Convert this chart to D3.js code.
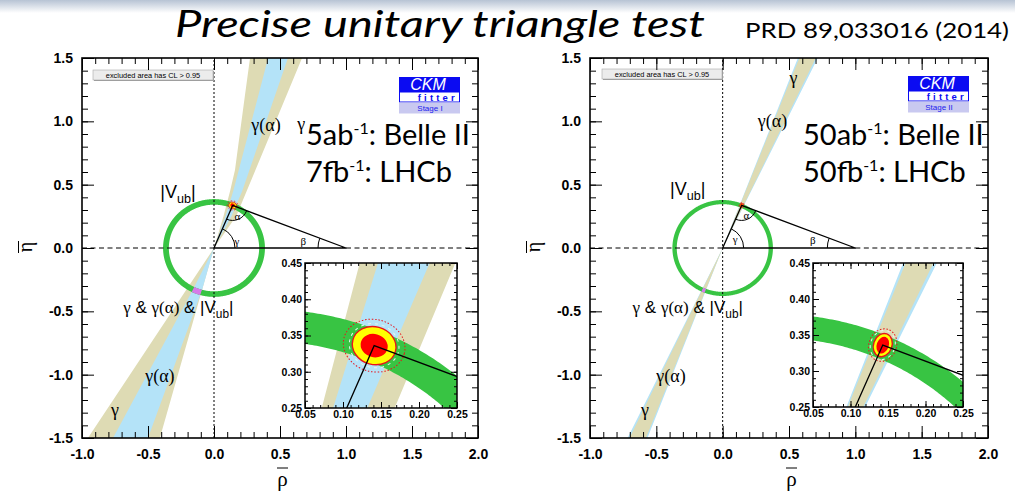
<!DOCTYPE html>
<html>
<head>
<meta charset="utf-8">
<script src="https://cdn.jsdelivr.net/npm/d3@7"></script>
<style>
  html, body { margin: 0; padding: 0; background: #fff; }
  svg { display: block; }
</style>
</head>
<body>
<svg id="chart" width="1015" height="492"></svg>
<script>
// ---------------------------------------------------------------
// Unitarity-triangle fits, two luminosity scenarios (Stage I / II)
// ---------------------------------------------------------------
const titleText = "Precise unitary triangle test";
const refText = "PRD 89,033016 (2014)";
const stageNames = ["Stage I", "Stage II"];
const belleLumi = ["5ab", "50ab"];
const lhcbLumi = ["7fb", "50fb"];

// 95% CL bands in the (rho, eta) plane.  Each band has an upper and a lower
// branch; each branch is [left edge, right edge], edges given as (rho, eta)
// points running out from the origin.
const gammaBand = [
  { up:   [[[0, 0], [0.072, 0.25], [0.122, 0.45], [0.159, 0.616], [0.235, 1.21], [0.273, 1.5]],
           [[0, 0], [0.168, 0.25], [0.667, 1.5]]],
    down: [[[0, 0], [-0.955, -1.5]],
           [[0, 0], [-0.41, -1.5]]] },
  { up:   [[[0, 0], [0.578, 1.5]], [[0, 0], [0.702, 1.5]]],
    down: [[[0, 0], [-0.702, -1.5]], [[0, 0], [-0.578, -1.5]]] }
];
const gammaAlphaBand = [
  { up:   [[[0, 0], [0.087, 0.25], [0.146, 0.45], [0.41, 1.5]],
           [[0, 0], [0.132, 0.25], [0.214, 0.45], [0.56, 1.5]]],
    down: [[[0, 0], [-0.16, -0.33], [-0.765, -1.5]],
           [[0, 0], [-0.09, -0.33], [-0.5, -1.5]]] },
  { up:   [[[0, 0], [0.567, 1.5]], [[0, 0], [0.717, 1.5]]],
    down: [[[0, 0], [-0.717, -1.5]], [[0, 0], [-0.567, -1.5]]] }
];
// |Vub| ring: inner / outer radius
const vubRing = [[0.342, 0.386], [0.346, 0.379]];
// global fit: apex of the triangle
const apexRho = [0.141, 0.143];
const apexEta = [0.336, 0.336];
// half-axes (rho, eta) of the fitted regions around the apex
const region1 = [[0.018, 0.016], [0.008, 0.012]];
const region2 = [[0.029, 0.026], [0.0123, 0.0165]];
const region3 = [[0.041, 0.036], [0.0185, 0.023]];

// tick labels
const xTickValues = [-1.0, -0.5, 0.0, 0.5, 1.0, 1.5, 2.0];
const yTickValues = [-1.5, -1.0, -0.5, 0.0, 0.5, 1.0, 1.5];
const insetXTickValues = [0.05, 0.10, 0.15, 0.20, 0.25];
const insetYTickValues = [0.25, 0.30, 0.35, 0.40, 0.45];

// ---------------------------------------------------------------
// layout
const frames = [
  { left: 82, right: 478, top: 58, bottom: 438,
    inset: { left: 305, right: 457, top: 263, bottom: 408 },
    logo: [399, 77], legend: [93, 70], lumiX: 306, tilt: 15,
    angleLabels: { g: [23, -2.6], a: [4.7, 14.8], b: [-42.7, -3.5] },
    labels: { gUp: [0.66, 0.93], gaUp: [0.394, 0.923], vub: [-0.273, 0.395],
              all: [-0.27, -0.513], gaLow: [-0.41, -1.058], gLow: [-0.75, -1.326] } },
  { left: 590, right: 988, top: 58, bottom: 438,
    inset: { left: 813, right: 963, top: 263, bottom: 407 },
    logo: [908, 76], legend: [602, 69], lumiX: 803, tilt: 20,
    angleLabels: { g: [12.5, -5], a: [4.7, 13.8], b: [-42.6, -4.5] },
    labels: { gUp: [0.534, 1.294], gaUp: [0.376, 0.955], vub: [-0.263, 0.42],
              all: [-0.263, -0.513], gaLow: [-0.39, -1.058], gLow: [-0.586, -1.326] } }
];

const COL = {
  gamma: "#dedbb4",
  gammaAlpha: "#b4e3f8",
  vub: "#38c443",
  overlap: "#d67be8",
  yellow: "#ffff00",
  red: "#ff0000",
  redLine: "#e8141c",
  logoBlue: "#0b0bf2",
  logoLav: "#c9c9f0"
};
const SANS = "'Liberation Sans', Arial, Helvetica, sans-serif";
const SERIF = "'Liberation Serif', 'DejaVu Serif', serif";
const CAL = "Lato, 'Open Sans', sans-serif";

const svg = d3.select("#chart");
const defs = svg.append("defs");

// header strip
const hdr = defs.append("linearGradient").attr("id", "hdr")
  .attr("x1", 0).attr("y1", 0).attr("x2", 0).attr("y2", 1);
hdr.append("stop").attr("offset", 0).attr("stop-color", "#b7c3d4");
hdr.append("stop").attr("offset", 1).attr("stop-color", "#ffffff");
svg.append("rect").attr("x", 0).attr("y", 0).attr("width", 1015).attr("height", 13)
  .attr("fill", "url(#hdr)");

svg.append("text").attr("x", 440).attr("y", 37).attr("text-anchor", "middle")
  .attr("font-family", CAL).attr("font-style", "italic")
  .attr("font-size", 37)
  .attr("textLength", 530).attr("lengthAdjust", "spacingAndGlyphs")
  .text(titleText);
svg.append("text").attr("x", 745).attr("y", 38)
  .attr("font-family", CAL).attr("font-size", 22)
  .attr("textLength", 264).attr("lengthAdjust", "spacingAndGlyphs")
  .text(refText);

// ---------------------------------------------------------------
// geometry helpers
const RAD = Math.PI / 180;

function branchPath(x, y, branch) {
  const pts = branch[0].concat(branch[1].slice().reverse());
  return "M" + pts.map(p => x(p[0]) + "," + y(p[1])).join("L") + "Z";
}
function bandPath(x, y, band) {
  return branchPath(x, y, band.up) + branchPath(x, y, band.down);
}
function bandWidth(band) {
  const e = band.down;
  return Math.abs(e[0][e[0].length - 1][0] - e[1][e[1].length - 1][0]);
}
function ringPath(x, y, r) {
  const ang = d3.range(0, 360.01, 0.5).map(a => a * RAD);
  const circ = rr => ang.map(a => [x(rr * Math.cos(a)), y(rr * Math.sin(a))]);
  const line = d3.line();
  return line(circ(r[1])) + "Z" + line(circ(r[0]).reverse()) + "Z";
}

let clipCount = 0;
function addClip(builder) {
  const id = "clip" + (clipCount++);
  builder(defs.append("clipPath").attr("id", id));
  return "url(#" + id + ")";
}

// constraint bands, ring and fitted regions
function drawConstraints(layer, x, y, i, tilt, isMain) {
  const bands = [
    { band: gammaBand[i], color: COL.gamma },
    { band: gammaAlphaBand[i], color: COL.gammaAlpha }
  ].sort((a, b) => bandWidth(b.band) - bandWidth(a.band));
  bands.forEach(b => layer.append("path").attr("d", bandPath(x, y, b.band)).attr("fill", b.color));

  layer.append("path").attr("d", ringPath(x, y, vubRing[i]))
    .attr("fill", COL.vub).attr("fill-rule", "evenodd");

  if (isMain) {
    // second solution: overlap of all three constraints below the axis
    const c1 = addClip(cp => cp.append("path").attr("d", branchPath(x, y, gammaBand[i].down)));
    const c2 = addClip(cp => cp.append("path").attr("d", branchPath(x, y, gammaAlphaBand[i].down)));
    layer.append("g").attr("clip-path", c1).append("g").attr("clip-path", c2)
      .append("path").attr("d", ringPath(x, y, vubRing[i]))
      .attr("fill", COL.overlap).attr("fill-rule", "evenodd");
  }

  const cx = x(apexRho[i]), cy = y(apexEta[i]);
  const rx = h => x(apexRho[i] + h[0]) - cx;
  const ry = h => cy - y(apexEta[i] + h[1]);
  const tr = `rotate(${tilt},${cx},${cy})`;
  layer.append("ellipse").attr("cx", cx).attr("cy", cy)
    .attr("rx", rx(region3[i])).attr("ry", ry(region3[i])).attr("transform", tr)
    .attr("fill", "none").attr("stroke", COL.redLine).attr("stroke-width", isMain ? 0.8 : 1)
    .attr("stroke-dasharray", "1.5,1.8");
  if (!isMain) {
    layer.append("ellipse").attr("cx", cx).attr("cy", cy)
      .attr("rx", rx(region2[i]) + 3).attr("ry", ry(region2[i]) + 3).attr("transform", tr)
      .attr("fill", "none").attr("stroke", "#e8f6f0").attr("stroke-width", 1)
      .attr("stroke-dasharray", "3,4");
  }
  layer.append("ellipse").attr("cx", cx).attr("cy", cy)
    .attr("rx", rx(region2[i])).attr("ry", ry(region2[i])).attr("transform", tr)
    .attr("fill", COL.yellow).attr("stroke", COL.redLine).attr("stroke-width", isMain ? 0.8 : 1.4);
  layer.append("ellipse").attr("cx", cx).attr("cy", cy)
    .attr("rx", rx(region1[i])).attr("ry", ry(region1[i])).attr("transform", tr)
    .attr("fill", COL.red);
}

function arcPath(cx, cy, r, a0, a1) {
  // counter-clockwise (on screen) from angle a0 to a1, degrees, math orientation
  const p = a => [cx + r * Math.cos(a * RAD), cy - r * Math.sin(a * RAD)];
  const s = p(a0), e = p(a1);
  return `M${s[0]},${s[1]}A${r},${r} 0 0 0 ${e[0]},${e[1]}`;
}
function screenAngle(from, to) {
  return Math.atan2(from[1] - to[1], to[0] - from[0]) / RAD;
}

function styleAxis(g, size) {
  g.select(".domain").remove();
  g.attr("font-family", SANS).attr("font-size", size).attr("font-weight", "bold");
  g.selectAll("line").attr("stroke", "#000").attr("stroke-width", 1);
  g.selectAll("text").attr("fill", "#000");
}

// annotation: mixed Greek / Latin labels
function label(g, x, y, pos, parts, size) {
  const t = g.append("text").attr("x", x(pos[0])).attr("y", y(pos[1]))
    .attr("text-anchor", "middle").attr("font-size", size);
  parts.forEach(p => {
    const ts = t.append("tspan").text(p.t)
      .attr("font-family", p.serif ? SERIF : SANS);
    if (p.sub) ts.attr("font-size", size * 0.7).attr("dy", size * 0.3);
    if (p.back) ts.attr("dy", -size * 0.3);
  });
  return t;
}
const vubParts = [{ t: "|" }, { t: "V" }, { t: "ub", sub: true }, { t: "|", back: true }];
const gaParts = [{ t: "γ", serif: true }, { t: "(", serif: true }, { t: "α", serif: true }, { t: ")", serif: true }];

// ---------------------------------------------------------------
function drawPanel(i) {
  const f = frames[i];
  const g = svg.append("g");
  const x = d3.scaleLinear().domain([-1, 2]).range([f.left, f.right]);
  const y = d3.scaleLinear().domain([-1.5, 1.5]).range([f.bottom, f.top]);

  g.append("rect").attr("x", f.left).attr("y", f.top)
    .attr("width", f.right - f.left).attr("height", f.bottom - f.top).attr("fill", "#fff");

  const clip = addClip(cp => cp.append("rect").attr("x", f.left).attr("y", f.top)
    .attr("width", f.right - f.left).attr("height", f.bottom - f.top));
  const plot = g.append("g").attr("clip-path", clip);

  drawConstraints(plot, x, y, i, f.tilt, true);

  // reference axes through the origin
  plot.append("line").attr("x1", x(0)).attr("x2", x(0)).attr("y1", y(-1.5)).attr("y2", y(1.5))
    .attr("stroke", "#000").attr("stroke-width", 1).attr("stroke-dasharray", "2,2");
  [[-1, 0], [1, 2]].forEach(s => plot.append("line")
    .attr("x1", x(s[0])).attr("x2", x(s[1])).attr("y1", y(0)).attr("y2", y(0))
    .attr("stroke", "#000").attr("stroke-width", 1).attr("stroke-dasharray", "5,3.5"));

  // triangle
  const O = [x(0), y(0)], A = [x(apexRho[i]), y(apexEta[i])], B = [x(1), y(0)];
  plot.append("path").attr("d", `M${O}L${A}L${B}Z`)
    .attr("fill", "none").attr("stroke", "#000").attr("stroke-width", 1.3).attr("stroke-linejoin", "round");
  const angAO = screenAngle(A, O), angAB = screenAngle(A, B);
  const angOA = screenAngle(O, A), angBA = screenAngle(B, A);
  const arcs = [
    arcPath(O[0], O[1], 21, 0, angOA),
    arcPath(A[0], A[1], 15, angAO, angAB + 360),
    arcPath(B[0], B[1], 28, angBA, 180)
  ];
  arcs.forEach(d => plot.append("path").attr("d", d).attr("fill", "none")
    .attr("stroke", "#000").attr("stroke-width", 1));
  const al = f.angleLabels;
  const sm = [
    ["γ", O, al.g],
    ["α", A, al.a],
    ["β", B, al.b]
  ];
  sm.forEach(s => plot.append("text").attr("x", s[1][0] + s[2][0]).attr("y", s[1][1] + s[2][1])
    .attr("text-anchor", "middle")
    .attr("font-family", SERIF).attr("font-size", 11).text(s[0]));

  // band labels
  const L = f.labels;
  label(g, x, y, L.gUp, [{ t: "γ", serif: true }], 18);
  label(g, x, y, L.gaUp, gaParts, 18);
  label(g, x, y, L.vub, vubParts, 18);
  label(g, x, y, L.all, [{ t: "γ", serif: true }, { t: " & " }].concat(gaParts, [{ t: " & " }], vubParts), 17);
  label(g, x, y, L.gaLow, gaParts, 18);
  label(g, x, y, L.gLow, [{ t: "γ", serif: true }], 18);

  // CL legend
  const lg = g.append("g").attr("transform", `translate(${f.legend[0]},${f.legend[1]})`);
  lg.append("rect").attr("x", 1).attr("y", 1).attr("width", 120).attr("height", 10).attr("fill", "#9a9a9a");
  lg.append("rect").attr("width", 120).attr("height", 10).attr("fill", "#ececec")
    .attr("stroke", "#a8a8a8").attr("stroke-width", 0.6);
  lg.append("text").attr("x", 60).attr("y", 7.6).attr("text-anchor", "middle")
    .attr("font-family", SANS).attr("font-size", 7.4).text("excluded area has CL > 0.95");

  // CKMfitter logo
  const lo = g.append("g").attr("transform", `translate(${f.logo[0]},${f.logo[1]})`);
  lo.append("rect").attr("width", 61).attr("height", 15).attr("fill", COL.logoBlue);
  lo.append("rect").attr("x", 0.5).attr("y", 15).attr("width", 60).attr("height", 10)
    .attr("fill", "#fff").attr("stroke", COL.logoBlue).attr("stroke-width", 1);
  lo.append("rect").attr("y", 25.5).attr("width", 61).attr("height", 11).attr("fill", COL.logoLav);
  lo.append("text").attr("x", 29).attr("y", 13).attr("text-anchor", "middle")
    .attr("font-family", SANS).attr("font-style", "italic").attr("font-size", 16)
    .attr("fill", "#fff").text("CKM");
  lo.append("text").attr("x", 59).attr("y", 23.5).attr("text-anchor", "end")
    .attr("font-family", SANS).attr("font-weight", "bold").attr("font-size", 9.5)
    .attr("letter-spacing", 3.2).attr("fill", COL.logoBlue).text("fitter");
  lo.append("text").attr("x", 31).attr("y", 34).attr("text-anchor", "middle")
    .attr("font-family", SANS).attr("font-size", 8).attr("fill", "#2222ee").text(stageNames[i]);

  // luminosity scenario
  [[belleLumi[i], ": Belle II", 145], [lhcbLumi[i], ": LHCb", 182]].forEach(r => {
    const t = g.append("text").attr("x", f.lumiX).attr("y", r[2])
      .attr("font-family", CAL).attr("font-size", 29);
    t.append("tspan").text(r[0]);
    t.append("tspan").text("-1").attr("font-size", 16).attr("dy", -11);
    t.append("tspan").text(r[1]).attr("dy", 11);
  });

  // zoomed inset around the apex
  const ins = f.inset;
  const xi = d3.scaleLinear().domain([0.05, 0.25]).range([ins.left, ins.right]);
  const yi = d3.scaleLinear().domain([0.25, 0.45]).range([ins.bottom, ins.top]);
  const ig = g.append("g");
  ig.append("rect").attr("x", ins.left).attr("y", ins.top)
    .attr("width", ins.right - ins.left).attr("height", ins.bottom - ins.top).attr("fill", "#fff");
  const iclip = addClip(cp => cp.append("rect").attr("x", ins.left).attr("y", ins.top)
    .attr("width", ins.right - ins.left).attr("height", ins.bottom - ins.top));
  const ip = ig.append("g").attr("clip-path", iclip);
  drawConstraints(ip, xi, yi, i, f.tilt, false);
  ip.append("path")
    .attr("d", `M${xi(0)},${yi(0)}L${xi(apexRho[i])},${yi(apexEta[i])}L${xi(1)},${yi(0)}`)
    .attr("fill", "none").attr("stroke", "#000").attr("stroke-width", 1.3);

  const iAxes = [
    [d3.axisBottom(xi), `translate(0,${ins.bottom})`, insetXTickValues, true],
    [d3.axisLeft(yi), `translate(${ins.left},0)`, insetYTickValues, true],
    [d3.axisTop(xi), `translate(0,${ins.top})`, insetXTickValues, false],
    [d3.axisRight(yi), `translate(${ins.right},0)`, insetYTickValues, false]
  ];
  iAxes.forEach(([ax, tr, vals, lab]) => {
    const minor = ax.scale().ticks(20);
    ig.append("g").attr("transform", tr)
      .call(ax.tickValues(minor).tickSize(-3).tickFormat(""))
      .call(s => styleAxis(s, 10.5));
    ig.append("g").attr("transform", tr)
      .call(ax.tickValues(vals).tickSize(-6).tickPadding(lab ? 3 : 0)
        .tickFormat(lab ? (d => d.toFixed(2)) : ""))
      .call(s => styleAxis(s, 10.5));
  });
  ig.append("rect").attr("x", ins.left).attr("y", ins.top)
    .attr("width", ins.right - ins.left).attr("height", ins.bottom - ins.top)
    .attr("fill", "none").attr("stroke", "#000").attr("stroke-width", 1.5);

  // main axes: inner ticks on all four sides
  const mAxes = [
    [d3.axisBottom(x), `translate(0,${f.bottom})`, xTickValues, true, 11],
    [d3.axisLeft(y), `translate(${f.left},0)`, yTickValues, true, 9],
    [d3.axisTop(x), `translate(0,${f.top})`, xTickValues, false, 0],
    [d3.axisRight(y), `translate(${f.right},0)`, yTickValues, false, 0]
  ];
  mAxes.forEach(([ax, tr, vals, lab, pad]) => {
    const minor = ax.scale().ticks(30);
    g.append("g").attr("transform", tr)
      .call(ax.tickValues(minor).tickSize(-6).tickFormat(""))
      .call(s => styleAxis(s, 14));
    g.append("g").attr("transform", tr)
      .call(ax.tickValues(vals).tickSize(-12).tickPadding(pad)
        .tickFormat(lab ? (d => d.toFixed(1)) : ""))
      .call(s => styleAxis(s, 14));
  });
  g.append("rect").attr("x", f.left).attr("y", f.top)
    .attr("width", f.right - f.left).attr("height", f.bottom - f.top)
    .attr("fill", "none").attr("stroke", "#000").attr("stroke-width", 1.6);

  // axis titles
  const cxr = (f.left + f.right) / 2 + 2.5;
  g.append("text").attr("x", cxr).attr("y", 486).attr("text-anchor", "middle")
    .attr("font-family", SERIF).attr("font-size", 21).text("ρ");
  g.append("line").attr("x1", cxr - 5.5).attr("x2", cxr + 5.5).attr("y1", 468).attr("y2", 468)
    .attr("stroke", "#000").attr("stroke-width", 1);
  const ex = f.left - 50, ey = 247;
  const et = g.append("g").attr("transform", `translate(${ex},${ey}) rotate(-90)`);
  et.append("text").attr("x", 0).attr("y", 0).attr("text-anchor", "middle")
    .attr("font-family", SERIF).attr("font-size", 20).text("η");
  et.append("line").attr("x1", -6).attr("x2", 6).attr("y1", -13.5).attr("y2", -13.5)
    .attr("stroke", "#000").attr("stroke-width", 1);
}

drawPanel(0);
drawPanel(1);
</script>
</body>
</html>
